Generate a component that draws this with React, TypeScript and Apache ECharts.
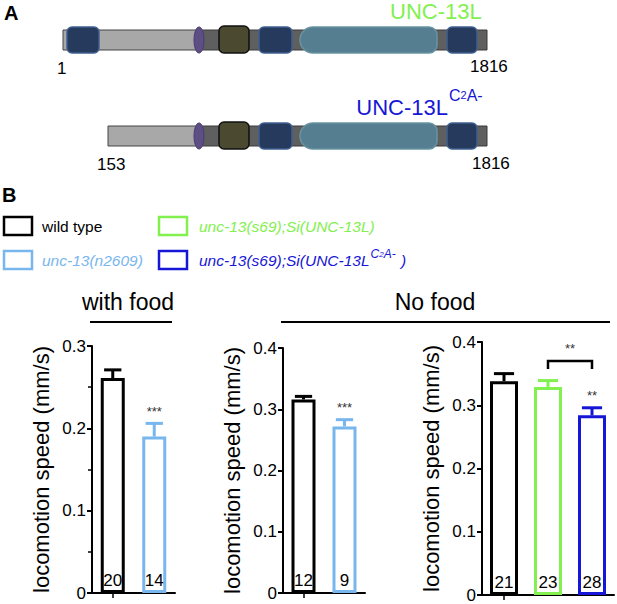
import React, { useEffect, useRef } from "react";
import * as echarts from "echarts";

// ---------- data ----------
const withFoodGroups = ["wild type", "unc-13(n2609)"];
const withFoodMeans = [0.261, 0.19];
const withFoodSem = [0.01, 0.016];
const withFoodN = [20, 14];
const withFoodStars = ["", "***"];

const noFoodAGroups = ["wild type", "unc-13(n2609)"];
const noFoodAMeans = [0.316, 0.272];
const noFoodASem = [0.005, 0.011];
const noFoodAN = [12, 9];
const noFoodAStars = ["", "***"];

const noFoodBGroups = ["wild type", "unc-13(s69);Si(UNC-13L)", "unc-13(s69);Si(UNC-13L C2A-)"];
const noFoodBMeans = [0.338, 0.329, 0.284];
const noFoodBSem = [0.012, 0.01, 0.012];
const noFoodBN = [21, 23, 28];
const noFoodBStars = ["", "", "**"];
const bracketFrom = [1];
const bracketTo = [2];
const bracketLevel = [0.37];
const bracketLabel = ["**"];

const yMaxWithFood = 0.3;
const yMaxNoFood = 0.4;

const groupColors: Record<string, string> = {
  "wild type": "#000000",
  "unc-13(n2609)": "#78b6ee",
  "unc-13(s69);Si(UNC-13L)": "#82f04e",
  "unc-13(s69);Si(UNC-13L C2A-)": "#1616d6",
};

const FONT = "'Liberation Sans', Arial, sans-serif";

function measure(text: string, font: string): number {
  const c = document.createElement("canvas").getContext("2d");
  if (!c) return text.length * 8;
  c.font = font;
  return c.measureText(text).width;
}

// ---------- helpers ----------
function makeAxes(k: number, groups: string[], max: number, minor: boolean) {
  const xAxis = {
    type: "category",
    gridIndex: k,
    data: groups,
    axisLine: { show: true, lineStyle: { color: "#000", width: 2 } },
    axisTick: { show: true, alignWithLabel: true, length: 5, lineStyle: { color: "#000", width: 1.5 } },
    axisLabel: { show: false },
    splitLine: { show: false },
  };
  const yAxis: any = {
    type: "value",
    gridIndex: k,
    min: 0,
    max,
    interval: 0.1,
    axisLine: { show: true, lineStyle: { color: "#000", width: 2 } },
    axisTick: { show: true, length: 5, lineStyle: { color: "#000", width: 2 } },
    minorTick: { show: minor, splitNumber: 2, length: 4, lineStyle: { color: "#000", width: 1.5 } },
    splitLine: { show: false },
    axisLabel: {
      color: "#000",
      fontSize: 17,
      fontFamily: FONT,
      margin: 6,
      formatter: (v: number) => (v === 0 ? "0" : v.toFixed(1)),
    },
    name: "locomotion speed (mm/s)",
    nameLocation: "middle",
    nameGap: 40,
    nameRotate: 90,
    nameTextStyle: { fontSize: 22, color: "#000", fontFamily: FONT },
  };
  return { xAxis, yAxis };
}

function makeSeries(
  k: number,
  groups: string[],
  means: number[],
  sems: number[],
  ns: number[],
  stars: string[],
  barWidth: number
) {
  const colors = groups.map((g) => groupColors[g]);
  const capW = barWidth * 0.72;
  const bar = {
    type: "bar",
    xAxisIndex: k,
    yAxisIndex: k,
    barWidth,
    z: 2,
    data: means.map((m, i) => ({
      value: m,
      itemStyle: { color: "#ffffff", borderColor: colors[i], borderWidth: 3 },
    })),
    label: {
      show: true,
      position: "insideBottom",
      distance: 4,
      fontSize: 17,
      fontFamily: FONT,
      color: "#000",
      formatter: (p: any) => String(ns[p.dataIndex]),
    },
  };
  const err = {
    type: "custom",
    xAxisIndex: k,
    yAxisIndex: k,
    z: 3,
    encode: { x: 0, y: 1 },
    data: means.map((m, i) => [i, m, sems[i]]),
    renderItem: (params: any, api: any) => {
      const i = api.value(0);
      const m = api.value(1);
      const s = api.value(2);
      const base = api.coord([i, m]);
      const top = api.coord([i, m + s]);
      const c = colors[params.dataIndex];
      const half = capW / 2;
      return {
        type: "group",
        children: [
          { type: "line", shape: { x1: base[0], y1: base[1], x2: top[0], y2: top[1] }, style: { stroke: c, lineWidth: 3 } },
          { type: "line", shape: { x1: top[0] - half, y1: top[1], x2: top[0] + half, y2: top[1] }, style: { stroke: c, lineWidth: 3 } },
          {
            type: "text",
            style: {
              text: stars[params.dataIndex],
              x: top[0],
              y: top[1] - 12,
              align: "center",
              verticalAlign: "middle",
              fontSize: 13,
              fontFamily: FONT,
              fill: "#333",
            },
          },
        ],
      };
    },
  };
  return [bar, err];
}

export default function App() {
  const ref = useRef<HTMLDivElement>(null);
  useEffect(() => {
    if (!ref.current) return;
    const chart = echarts.init(ref.current, null, { renderer: "svg" });

    const a0 = makeAxes(0, withFoodGroups, yMaxWithFood, true);
    const a1 = makeAxes(1, noFoodAGroups, yMaxNoFood, false);
    const a2 = makeAxes(2, noFoodBGroups, yMaxNoFood, false);

    const bracketSeries = {
      type: "custom",
      xAxisIndex: 2,
      yAxisIndex: 2,
      z: 4,
      encode: { x: [0, 1], y: 2 },
      data: bracketFrom.map((f, i) => [f, bracketTo[i], bracketLevel[i]]),
      renderItem: (params: any, api: any) => {
        const p1 = api.coord([api.value(0), api.value(2)]);
        const p2 = api.coord([api.value(1), api.value(2)]);
        const leg = 8;
        return {
          type: "group",
          children: [
            {
              type: "polyline",
              shape: { points: [[p1[0], p1[1] + leg], [p1[0], p1[1]], [p2[0], p1[1]], [p2[0], p1[1] + leg]] },
              style: { stroke: "#000", lineWidth: 2.5, fill: "none" },
            },
            {
              type: "text",
              style: {
                text: bracketLabel[params.dataIndex],
                x: (p1[0] + p2[0]) / 2,
                y: p1[1] - 12,
                align: "center",
                verticalAlign: "middle",
                fontSize: 13,
                fontFamily: FONT,
                fill: "#333",
              },
            },
          ],
        };
      },
    };

    // ---- protein schematic (panel A) ----
    const navy = { fill: "#253a5c", stroke: "#40608f", lineWidth: 1.5 };
    const domainRow = (dy: number, grayStart: number) => [
      { type: "rect", shape: { x: 197, y: 30 + dy, width: 290, height: 20 }, style: { fill: "#5f5f5f", stroke: "#3a3a3a", lineWidth: 1 } },
      { type: "rect", shape: { x: grayStart, y: 30 + dy, width: 197 - grayStart, height: 20 }, style: { fill: "#a8a8a8", stroke: "#444", lineWidth: 1 } },
      { type: "ellipse", shape: { cx: 199, cy: 40 + dy, rx: 5, ry: 13 }, style: { fill: "#5d4e84", stroke: "#463c72", lineWidth: 1 } },
      { type: "rect", shape: { x: 219, y: 26 + dy, width: 30, height: 27, r: 5 }, style: { fill: "#4b4a31", stroke: "#111", lineWidth: 1.5 } },
      { type: "rect", shape: { x: 259, y: 27 + dy, width: 33, height: 26, r: 5 }, style: navy },
      { type: "rect", shape: { x: 300, y: 27 + dy, width: 137, height: 26, r: [13, 8, 8, 13] }, style: { fill: "#557f90", stroke: "#6a92a3", lineWidth: 1.5 } },
      { type: "rect", shape: { x: 447, y: 27 + dy, width: 30, height: 26, r: 5 }, style: navy },
    ];

    const txt = (text: string, x: number, y: number, opts: any = {}) => ({
      type: "text",
      style: { text, x, y, fontFamily: FONT, fontSize: 17, fill: "#000", verticalAlign: "middle", align: "left", ...opts },
    });

    const blue = groupColors["unc-13(s69);Si(UNC-13L C2A-)"];
    const LEG_FS = 15.5;
    const legMain = "unc-13(s69);Si(UNC-13L";
    const legX = 199;
    const legMainW = measure(legMain, `italic ${LEG_FS}px 'Liberation Sans'`);
    const supX = legX + legMainW + 1;
    const supW = measure("CA-", "italic 12px 'Liberation Sans'") + measure("2", "italic 8px 'Liberation Sans'");

    const graphics: any[] = [
      txt("A", 4, 13, { fontSize: 20, fontWeight: "bold" }),
      ...domainRow(0, 63),
      { type: "rect", shape: { x: 67, y: 27, width: 32, height: 26, r: 5 }, style: navy },
      ...domainRow(96, 108),
      txt("UNC-13L", 390, 11, { fontSize: 22, fill: groupColors["unc-13(s69);Si(UNC-13L)"] }),
      txt("1", 57, 68),
      txt("1816", 470, 66),
      txt("UNC-13L", 448, 107, { fontSize: 22, align: "right", fill: blue }),
      {
        type: "text",
        style: {
          text: "{a|C}{b|2}{a|A-}",
          x: 449,
          y: 95,
          verticalAlign: "middle",
          fill: blue,
          fontFamily: FONT,
          rich: {
            a: { fontSize: 16, fontFamily: FONT, fill: blue },
            b: { fontSize: 11, fontFamily: FONT, fill: blue },
          },
        },
      },
      txt("153", 97, 164),
      txt("1816", 472, 163),
      // ---- panel B legend ----
      txt("B", 2, 195, { fontSize: 20, fontWeight: "bold" }),
      { type: "rect", shape: { x: 4, y: 217, width: 28, height: 18 }, style: { fill: "none", stroke: groupColors["wild type"], lineWidth: 2.5 } },
      { type: "rect", shape: { x: 4, y: 251, width: 28, height: 18 }, style: { fill: "none", stroke: groupColors["unc-13(n2609)"], lineWidth: 2.5 } },
      { type: "rect", shape: { x: 159, y: 217, width: 28, height: 18 }, style: { fill: "none", stroke: groupColors["unc-13(s69);Si(UNC-13L)"], lineWidth: 2.5 } },
      { type: "rect", shape: { x: 159, y: 251, width: 28, height: 18 }, style: { fill: "none", stroke: blue, lineWidth: 2.5 } },
      txt("wild type", 42, 226, { fontSize: LEG_FS }),
      txt("unc-13(n2609)", 42, 260, { fontSize: LEG_FS, fontStyle: "italic", fill: groupColors["unc-13(n2609)"] }),
      txt("unc-13(s69);Si(UNC-13L)", legX, 226, { fontSize: LEG_FS, fontStyle: "italic", fill: groupColors["unc-13(s69);Si(UNC-13L)"] }),
      txt(legMain, legX, 260, { fontSize: LEG_FS, fontStyle: "italic", fill: blue }),
      {
        type: "text",
        style: {
          text: "{a|C}{b|2}{a|A-}",
          x: supX,
          y: 254,
          verticalAlign: "middle",
          fill: blue,
          fontFamily: FONT,
          rich: {
            a: { fontSize: 12, fontStyle: "italic", fontFamily: FONT, fill: blue },
            b: { fontSize: 8, fontStyle: "italic", fontFamily: FONT, fill: blue },
          },
        },
      },
      txt(" )", supX + supW + 1, 260, { fontSize: LEG_FS, fontStyle: "italic", fill: blue }),
      // ---- condition headers ----
      txt("with food", 128, 302, { fontSize: 23, align: "center" }),
      { type: "line", shape: { x1: 90, y1: 322, x2: 172, y2: 322 }, style: { stroke: "#000", lineWidth: 2 } },
      txt("No food", 435, 302, { fontSize: 23, align: "center" }),
      { type: "line", shape: { x1: 281, y1: 322, x2: 610, y2: 322 }, style: { stroke: "#000", lineWidth: 2 } },
    ];

    chart.setOption({
      animation: false,
      backgroundColor: "#ffffff",
      textStyle: { fontFamily: FONT },
      grid: [
        { left: 92, top: 346, width: 83, height: 247 },
        { left: 283, top: 348, width: 82, height: 245 },
        { left: 482, top: 342, width: 132, height: 253 },
      ],
      xAxis: [a0.xAxis, a1.xAxis, a2.xAxis],
      yAxis: [a0.yAxis, a1.yAxis, a2.yAxis],
      series: [
        ...makeSeries(0, withFoodGroups, withFoodMeans, withFoodSem, withFoodN, withFoodStars, 24),
        ...makeSeries(1, noFoodAGroups, noFoodAMeans, noFoodASem, noFoodAN, noFoodAStars, 24),
        ...makeSeries(2, noFoodBGroups, noFoodBMeans, noFoodBSem, noFoodBN, noFoodBStars, 28),
        bracketSeries,
      ],
      graphic: graphics,
    } as any);
    return () => chart.dispose();
  }, []);
  return <div ref={ref} style={{ position: "absolute", left: 0, top: 0, width: 617, height: 604 }} />;
}
